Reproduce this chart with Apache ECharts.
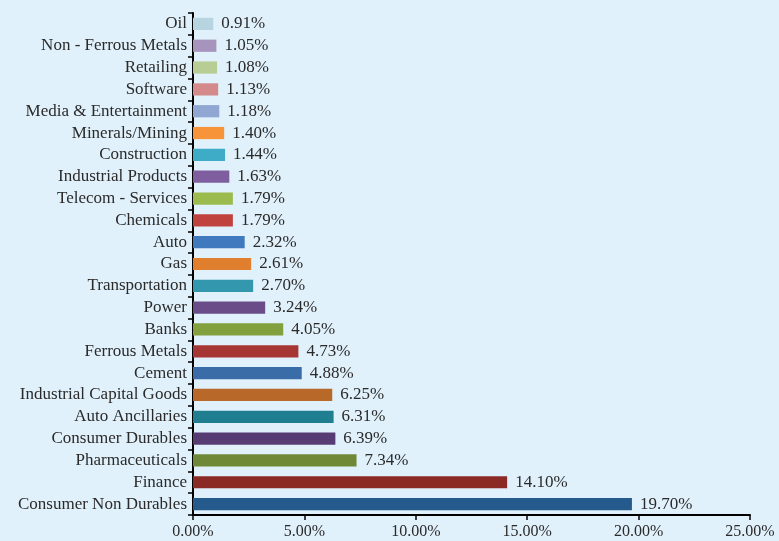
<!DOCTYPE html>
<html><head><meta charset="utf-8">
<script src="https://cdn.jsdelivr.net/npm/echarts@6/dist/echarts.min.js"></script>
<style>html,body{margin:0;padding:0;background:#E1F1FB;}#c{width:779px;height:541px;}</style>
</head><body><div id="c"></div>
<script>
const categories = ["Consumer Non Durables","Finance","Pharmaceuticals","Consumer Durables","Auto Ancillaries","Industrial Capital Goods","Cement","Ferrous Metals","Banks","Power","Transportation","Gas","Auto","Chemicals","Telecom - Services","Industrial Products","Construction","Minerals/Mining","Media & Entertainment","Software","Retailing","Non - Ferrous Metals","Oil"];
const values = [19.70,14.10,7.34,6.39,6.31,6.25,4.88,4.73,4.05,3.24,2.70,2.61,2.32,1.79,1.79,1.63,1.44,1.40,1.18,1.13,1.08,1.05,0.91];
const colors = ["#255A8C","#8B2A25","#6E8838","#573C74","#1F7E90","#B8692A","#3A6CA8","#A53634","#82A03D","#6A4C88","#3397AE","#E07F2D","#4179BE","#C0423F","#9BBB4F","#7E5E9F","#3EACC6","#F79439","#8FA7D2","#D48A8A","#B8CD94","#A694BC","#B7D5E0"];
const xTicks = [0,5,10,15,20,25];
const font = "'Liberation Serif', 'DejaVu Serif', serif";
const chart = echarts.init(document.getElementById('c'));
chart.setOption({
  backgroundColor: '#E1F1FB',
  animation: false,
  grid: {left: 193, right: 29, top: 13, bottom: 26, containLabel: false},
  xAxis: {
    type: 'value', min: xTicks[0], max: xTicks[xTicks.length-1], interval: 5,
    axisLine: {show: true, lineStyle: {color: '#000', width: 2}},
    axisTick: {show: true, length: 5, lineStyle: {color: '#000', width: 1.5}},
    splitLine: {show: false},
    axisLabel: {formatter: v => v.toFixed(2) + '%', fontFamily: font, fontSize: 16, color: '#2a2a2a', margin: 9}
  },
  yAxis: {
    type: 'category', data: categories,
    axisLine: {show: true, lineStyle: {color: '#000', width: 2}},
    axisTick: {show: true, length: 5, interval: 0, lineStyle: {color: '#000', width: 1.5}},
    axisLabel: {interval: 0, fontFamily: font, fontSize: 17, color: '#2a2a2a', margin: 6}
  },
  series: [{
    type: 'bar',
    data: values.map((v, i) => ({value: v, itemStyle: {color: colors[i]}})),
    barWidth: '56%',
    label: {show: true, position: 'right', distance: 8, formatter: p => p.value.toFixed(2) + '%', fontFamily: font, fontSize: 17, color: '#2a2a2a'}
  }]
});
</script></body></html>
